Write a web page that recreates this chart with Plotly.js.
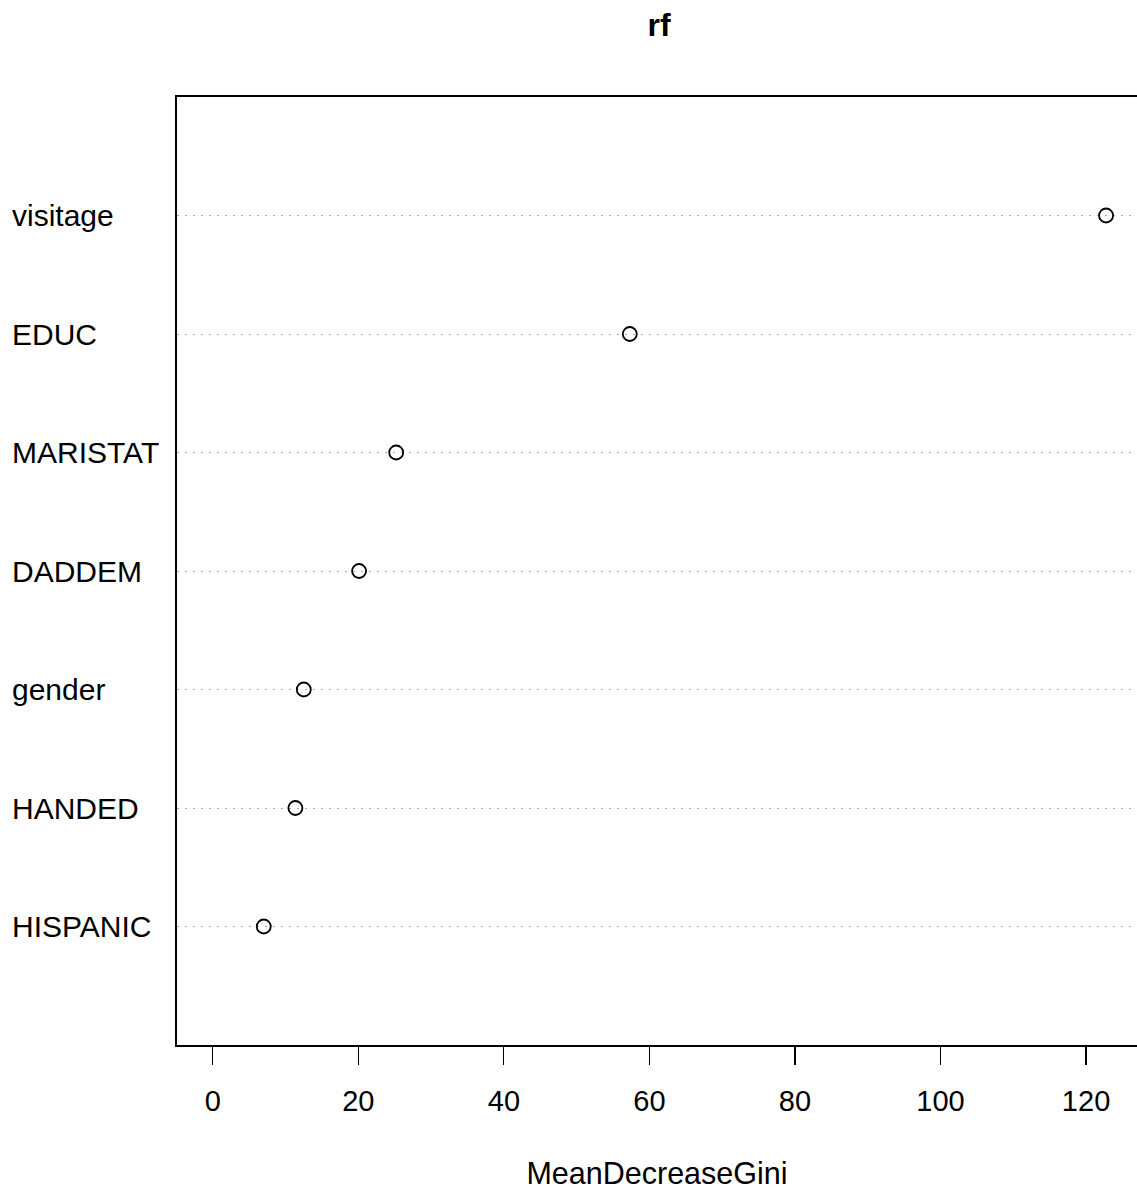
<!DOCTYPE html>
<html>
<head>
<meta charset="utf-8">
<script src="https://cdn.plot.ly/plotly-3.0.1.min.js"></script>
<style>html,body{margin:0;padding:0;background:#fff;}#chart{width:1137px;height:1190px;}</style>
</head>
<body>
<div id="chart"></div>
<script>
// Variables ordered bottom to top
var categories = ["HISPANIC", "HANDED", "gender", "DADDEM", "MARISTAT", "EDUC", "visitage"];
var meanDecreaseGini = [7.0, 11.35, 12.5, 20.1, 25.2, 57.3, 122.75];
var xTickVals = [0, 20, 40, 60, 80, 100, 120];
var titleText = "rf";
var xTitleText = "MeanDecreaseGini";

var positions = categories.map(function (_, i) { return i + 1; });

var trace = {
  type: "scatter",
  mode: "markers",
  x: meanDecreaseGini,
  y: positions,
  marker: { symbol: "circle-open", size: 14, color: "#000", line: { color: "#000", width: 1.8 } },
  hoverinfo: "x+text",
  text: categories
};

var fontFam = "Liberation Sans, Arial, sans-serif";
var L = 177, W = 1137;
var annotations = categories.map(function (c, i) {
  return {
    text: c, xref: "paper", yref: "y", x: (10 - L) / (W - L), y: positions[i],
    xanchor: "left", yanchor: "middle", showarrow: false,
    font: { family: fontFam, size: 30, color: "#000" }
  };
});

var layout = {
  width: 1137, height: 1190,
  margin: { l: L, r: 0, t: 97, b: 145 },
  paper_bgcolor: "#fff", plot_bgcolor: "#fff",
  showlegend: false,
  title: { text: "<b>" + titleText + "</b>", x: (659 - L) / (W - L), xref: "paper", xanchor: "center", y: 1 - 25 / 1190, yanchor: "middle",
    font: { family: fontFam, size: 32, color: "#000" } },
  xaxis: {
    range: [-4.92, 127.0], tickvals: xTickVals, ticktext: xTickVals.map(String),
    ticks: "outside", ticklen: 18, tickwidth: 1.2, tickcolor: "#000",
    showline: true, linecolor: "#000", linewidth: 1.6, mirror: true,
    showgrid: false, zeroline: false,
    tickfont: { family: fontFam, size: 29, color: "#000" },
    ticklabelstandoff: 12,
    title: { text: xTitleText, font: { family: fontFam, size: 30.5, color: "#000" }, standoff: 51 }
  },
  yaxis: {
    range: [0, 8], tickvals: positions, showticklabels: false, ticks: "",
    showline: true, linecolor: "#000", linewidth: 1.6, mirror: false,
    showgrid: true, gridcolor: "#a8a8a8", gridwidth: 1, griddash: "2px,6px",
    zeroline: false
  },
  annotations: annotations
};

Plotly.newPlot("chart", [trace], layout, { displayModeBar: false, staticPlot: true });
</script>
</body>
</html>
